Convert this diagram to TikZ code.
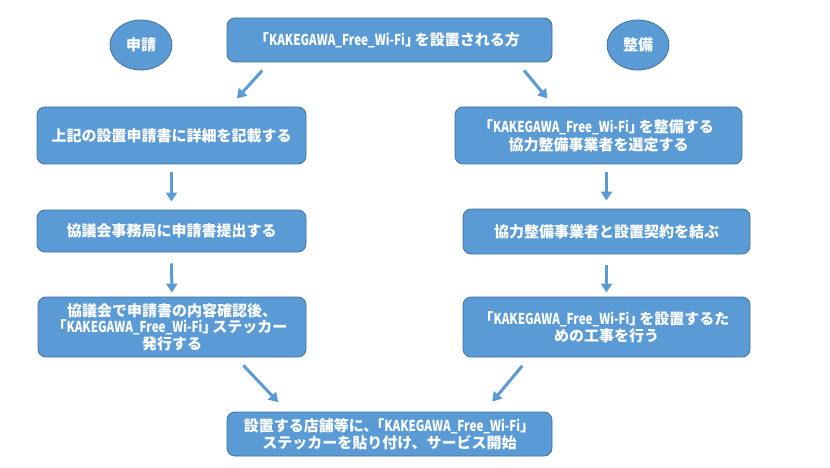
\documentclass[tikz,border=0pt]{standalone}
\usepackage{fontspec}
\setmainfont{Noto Sans CJK JP}
\newfontfamily\narrowlat{Noto Sans CJK JP}[FakeStretch=0.78]
\usepackage{tikz}
\usetikzlibrary{shapes.geometric, arrows.meta, positioning}
\definecolor{boxblue}{HTML}{5B9BD5}
\definecolor{boxedge}{HTML}{41719C}
\newcommand{\wifi}{\hspace{-5pt}「{\narrowlat\bfseries KAKEGAWA\_Free\_Wi-Fi}」\hspace{-5pt}}

\begin{document}
\begin{tikzpicture}[x=1pt, y=-1pt]
		\tikzstyle{stepbox}=[draw=boxedge, line width=0.8pt, fill=boxblue, rounded corners=8pt, text=white, align=center, inner sep=0pt, font=\fontsize{15}{17}\selectfont\bfseries]
		\tikzstyle{tag}=[ellipse, draw=boxedge, line width=0.8pt, fill=boxblue, text=white, minimum width=62pt, minimum height=50pt, inner sep=0pt, font=\fontsize{15}{17}\selectfont\bfseries]
		\tikzstyle{flow}=[-{Triangle[width=11pt, length=9pt]}, line width=3pt, boxblue]
		\useasboundingbox (0,0) rectangle (830,468);

		\node (top) at (389.5,40) [stepbox, minimum width=325pt, minimum height=44pt] {\wifi を設置される方};
		\node (apply) at (141,45) [tag] {申請};
		\node (setup) at (638,45) [tag] {整備};

		\node (l1) at (171.5,135.5) [stepbox, minimum width=269pt, minimum height=57pt] {上記の設置申請書に詳細を記載する};
		\node (l2) at (171.5,231) [stepbox, minimum width=269pt, minimum height=42pt] {協議会事務局に申請書提出する};
		\node (l3) at (172,327) [stepbox, minimum width=268pt, minimum height=60pt, font=\fontsize{15}{16.5}\selectfont\bfseries] {協議会で申請書の内容確認後、\\\wifi ステッカー\\発行する};

		\node (r1) at (598.5,135.5) [stepbox, minimum width=287pt, minimum height=57pt, font=\fontsize{15}{18}\selectfont\bfseries] {\wifi を整備する\\協力整備事業者を選定する};
		\node (r2) at (606.5,231.5) [stepbox, minimum width=287pt, minimum height=45pt] {協力整備事業者と設置契約を結ぶ};
		\node (r3) at (606.5,327) [stepbox, minimum width=287pt, minimum height=60pt] {\wifi を設置するた\\めの工事を行う};

		\node (bot) at (389.5,434) [stepbox, minimum width=325pt, minimum height=44pt] {設置する店舗等に、\hspace{-4pt}\wifi\\ステッカーを貼り付け、サービス開始};

		% arrows
		\draw [flow, shorten <=11pt, shorten >=11pt] ([xshift=43pt]top.south west) -- ([xshift=193pt]l1.north west);
		\draw [flow, shorten <=10.5pt, shorten >=10.5pt] ([xshift=-35pt]top.south east) -- ([xshift=99.5pt]r1.north west);
		\draw [flow, shorten <=8pt, shorten >=8pt] (l1) -- (l2);
		\draw [flow, shorten <=11pt, shorten >=4pt] (l2) -- (l3);
		\draw [flow, shorten <=8pt, shorten >=8pt] (r1.south -| r2.north) -- (r2.north);
		\draw [flow, shorten <=11pt, shorten >=4pt] (r2) -- (r3);
		\draw [flow, shorten <=11pt, shorten >=13pt] ([xshift=-70.6pt]l3.south east) -- ([xshift=60.5pt]bot.north west);
		\draw [flow, shorten <=11pt, shorten >=13pt] ([xshift=66.7pt]r3.south west) -- ([xshift=-68.4pt]bot.north east);
\end{tikzpicture}
\end{document}
